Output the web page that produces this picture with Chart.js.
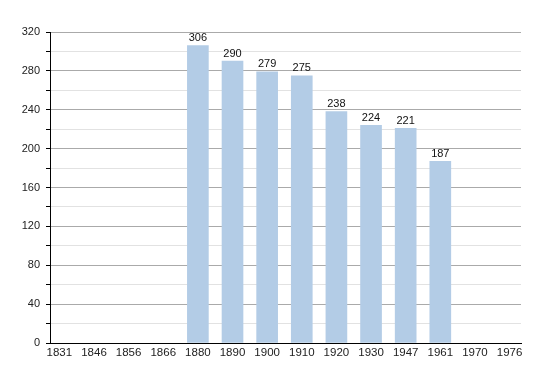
<!DOCTYPE html>
<html>
<head>
<meta charset="utf-8">
<script src="https://cdn.jsdelivr.net/npm/chart.js@4/dist/chart.umd.min.js"></script>
<style>
  html, body { margin: 0; padding: 0; background: #fff; }
  #wrap { width: 550px; height: 373px; }
</style>
</head>
<body>
<div id="wrap"><canvas id="chart" width="550" height="373"></canvas></div>
<script>
// Census years and population
const years = ['1831', '1846', '1856', '1866', '1880', '1890', '1900', '1910', '1920', '1930', '1947', '1961', '1970', '1976'];
const population = [null, null, null, null, 306, 290, 279, 275, 238, 224, 221, 187, null, null];

const yTicksMajor = 40;
const yTicksMinor = 20;

// Value labels above each bar
const valueLabels = {
    id: 'valueLabels',
    afterDatasetsDraw(chart) {
        const ctx = chart.ctx;
        const meta = chart.getDatasetMeta(0);
        ctx.save();
        ctx.font = '11px "Liberation Sans", Arial, sans-serif';
        ctx.fillStyle = '#111';
        ctx.textAlign = 'center';
        ctx.textBaseline = 'bottom';
        meta.data.forEach((bar, i) => {
            const v = population[i];
            if (v == null) return;
            ctx.fillText(String(v), bar.x, bar.y - 2);
        });
        ctx.restore();
    }
};

new Chart(document.getElementById('chart'), {
    type: 'bar',
    data: {
        datasets: [{
            data: population.map((v, i) => ({ x: i, y: v })),
            backgroundColor: '#b3cce6',
            borderWidth: 0,
            barThickness: 21
        }]
    },
    options: {
        responsive: false,
        animation: false,
        layout: { padding: { top: 32, right: 29, left: 0, bottom: 0 } },
        plugins: { legend: { display: false }, tooltip: { enabled: false } },
        scales: {
            x: {
                type: 'linear',
                offset: false,
                min: -0.27,
                max: 13.33,
                afterBuildTicks: scale => { scale.ticks = years.map((_, i) => ({ value: i })); },
                afterFit: scale => { scale.height = 30; },
                grid: { display: false, drawTicks: false },
                border: { display: true, color: '#000', width: 1 },
                ticks: {
                    autoSkip: false,
                    maxRotation: 0,
                    padding: 3,
                    color: '#222',
                    font: { family: '"Liberation Sans", Arial, sans-serif', size: 11.5 },
                    callback: v => years[v] || ''
                }
            },
            y: {
                min: 0,
                max: 320,
                afterFit: scale => { scale.width = 50; },
                ticks: {
                    stepSize: yTicksMinor,
                    padding: 6,
                    color: '#222',
                    font: { family: '"Liberation Sans", Arial, sans-serif', size: 11 },
                    callback: v => (v % yTicksMajor === 0 ? v : '')
                },
                grid: {
                    color: c => (c.tick && c.tick.value % yTicksMajor === 0 ? '#aaaaaa' : '#e2e2e2'),
                    tickColor: '#000',
                    tickLength: 4
                },
                border: { display: true, color: '#000', width: 1 }
            }
        }
    },
    plugins: [valueLabels]
});
</script>
</body>
</html>
